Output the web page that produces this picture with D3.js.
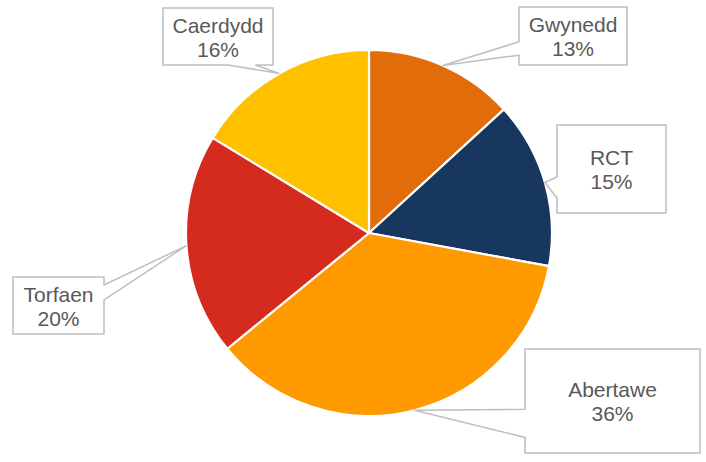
<!DOCTYPE html>
<html>
<head>
<meta charset="utf-8">
<script src="https://cdn.jsdelivr.net/npm/d3@7"></script>
<style>
  html, body { margin: 0; padding: 0; background: #fff; }
  svg { display: block; }
</style>
</head>
<body>
<svg id="chart" width="706" height="462"></svg>
<script>
// ---- data ----
const categories = ["Gwynedd", "RCT", "Abertawe", "Torfaen", "Caerdydd"];
const values = [13.2, 14.7, 36.2, 19.6, 16.3];
const colors = ["#E36C0A", "#17375E", "#FF9900", "#D52B1E", "#FFC000"];

// ---- layout (label callout boxes) ----
const boxes = [
  { x: 519, y: 7,   w: 108, h: 58,  edge: "left",   f1: 0.60, f2: 0.83 },
  { x: 557, y: 125, w: 109, h: 88,  edge: "left",   f1: 0.59, f2: 0.83 },
  { x: 525, y: 349, w: 175, h: 104, edge: "left",   f1: 0.58, f2: 0.85 },
  { x: 13,  y: 277, w: 91,  h: 57,  edge: "right",  f1: 0.14, f2: 0.40 },
  { x: 163, y: 8,   w: 110, h: 57,  edge: "bottom", f1: 0.59, f2: 0.84 }
];

const svg = d3.select("#chart");
const cx = 369, cy = 233, R = 183;
const g = svg.append("g").attr("transform", `translate(${cx},${cy})`);

const total = d3.sum(values);
const pie = d3.pie().sort(null).value(d => d)(values);
const arc = d3.arc().innerRadius(0).outerRadius(R);

g.selectAll("path.slice")
  .data(pie)
  .join("path")
  .attr("class", "slice")
  .attr("d", arc)
  .attr("fill", (d, i) => colors[i])
  .attr("stroke", "#fff")
  .attr("stroke-width", 2.2)
  .attr("stroke-linejoin", "round");

// callouts
function calloutPath(b, tip) {
  const { x, y, w, h } = b;
  const x2 = x + w, y2 = y + h;
  let p;
  if (b.edge === "left") {
    const a = y + b.f1 * h, c = y + b.f2 * h;
    p = `M${x},${y}H${x2}V${y2}H${x}V${c}L${tip[0]},${tip[1]}L${x},${a}Z`;
  } else if (b.edge === "right") {
    const a = y + b.f1 * h, c = y + b.f2 * h;
    p = `M${x},${y}H${x2}V${a}L${tip[0]},${tip[1]}L${x2},${c}V${y2}H${x}Z`;
  } else {
    const a = x + b.f1 * w, c = x + b.f2 * w;
    p = `M${x},${y}H${x2}V${y2}H${c}L${tip[0]},${tip[1]}L${a},${y2}H${x}Z`;
  }
  return p;
}

const labelLayer = svg.append("g");
pie.forEach((d, i) => {
  const mid = (d.startAngle + d.endAngle) / 2;
  const tip = [cx + R * Math.sin(mid), cy - R * Math.cos(mid)];
  const b = boxes[i];
  labelLayer.append("path")
    .attr("d", calloutPath(b, tip))
    .attr("fill", "#fff")
    .attr("stroke", "#BFBFBF")
    .attr("stroke-width", 1.5)
    .attr("stroke-linejoin", "miter");
  const tx = b.x + b.w / 2;
  const midY = b.y + b.h / 2;
  const t = labelLayer.append("text")
    .attr("x", tx)
    .attr("text-anchor", "middle")
    .attr("font-family", "'Liberation Sans', Arial, sans-serif")
    .attr("font-size", 21)
    .attr("fill", "#595959");
  t.append("tspan").attr("x", tx).attr("y", midY - 4).text(categories[i]);
  t.append("tspan").attr("x", tx).attr("y", midY + 20)
    .text(Math.round(d.value / total * 100) + "%");
});
</script>
</body>
</html>
